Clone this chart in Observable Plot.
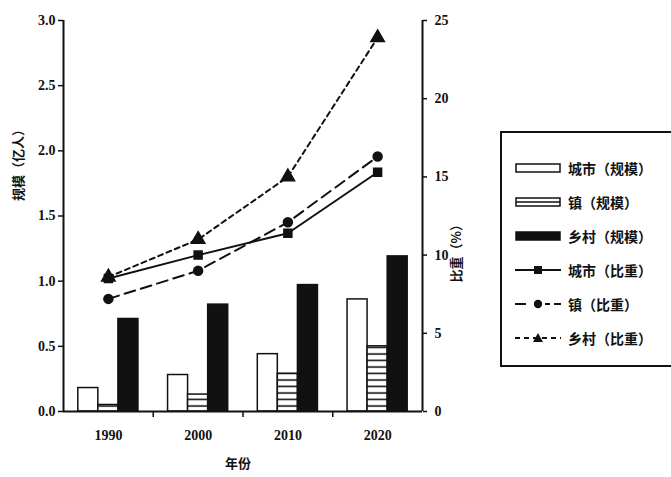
<!DOCTYPE html>
<html><head><meta charset="utf-8">
<script src="https://cdn.jsdelivr.net/npm/d3@7"></script>
<script src="https://cdn.jsdelivr.net/npm/@observablehq/plot@0.6"></script>
<style>
body{margin:0;background:#fff;overflow:hidden;width:671px;height:477px;position:relative;font-family:"Noto Sans CJK SC",sans-serif;}
#chart{position:absolute;left:0;top:0;}
#legend{position:absolute;left:500px;top:131px;width:190px;height:236px;border:2px solid #111;box-sizing:border-box;background:#fff;}
.item{position:absolute;left:13px;height:20px;display:flex;align-items:center;font-weight:bold;font-size:14px;color:#111;white-space:nowrap;}
.item svg{margin-right:7px;}
</style></head><body>
<div id="chart"></div><div id="legend"></div>
<script>
const years = [1990, 2000, 2010, 2020];
const cityScale = [0.18, 0.28, 0.44, 0.86];
const townScale = [0.05, 0.13, 0.29, 0.50];
const ruralScale = [0.71, 0.82, 0.97, 1.19];
const cityPct = [8.5, 10.0, 11.4, 15.3];
const townPct = [7.2, 9.0, 12.1, 16.3];
const ruralPct = [8.6, 11.0, 15.0, 23.9];
const leftTicks = [0, 0.5, 1.0, 1.5, 2.0, 2.5, 3.0];
const rightTicks = [0, 5, 10, 15, 20, 25];
const legendLabels = ["城市（规模）", "镇（规模）", "乡村（规模）", "城市（比重）", "镇（比重）", "乡村（比重）"];

const INK = "#111";
const pctMax = 25, leftMax = 3;
const toLeft = v => v * leftMax / pctMax;

const barSeries = [
  {name: "city", vals: cityScale, o1: -3.35, o2: -1.12, fill: "white"},
  {name: "town", vals: townScale, o1: -1.12, o2: 1.12, fill: "url(#hatch)"},
  {name: "rural", vals: ruralScale, o1: 1.12, o2: 3.35, fill: INK}
];
const lineSeries = [
  {name: "city", vals: cityPct, dash: null, symbol: "square", r: 4.5},
  {name: "town", vals: townPct, dash: "11,6", symbol: "circle", r: 4.5},
  {name: "rural", vals: ruralPct, dash: "5,4", symbol: "triangle", r: 5}
];

const marks = [];
for (const s of barSeries) {
  const data = years.map((y, i) => ({year: y, v: s.vals[i]}));
  marks.push(Plot.rectY(data, {
    x1: d => d.year + s.o1, x2: d => d.year + s.o2, y1: 0, y2: "v",
    fill: s.fill, stroke: INK, strokeWidth: 1.5
  }));
}
for (const s of lineSeries) {
  const data = years.map((y, i) => ({year: y, v: s.vals[i]}));
  marks.push(Plot.line(data, {x: "year", y: d => toLeft(d.v), stroke: INK, strokeWidth: 2, strokeDasharray: s.dash}));
  marks.push(Plot.dot(data, {x: "year", y: d => toLeft(d.v), symbol: s.symbol, r: s.r, fill: INK, stroke: INK}));
}
marks.push(Plot.ruleY([0], {stroke: INK, strokeWidth: 2}));
marks.push(Plot.ruleX([1985, 2025], {y1: 0, y2: 3, stroke: INK, strokeWidth: 2}));
marks.push(Plot.axisY(leftTicks, {anchor: "left", tickSize: 5, tickPadding: 3, tickFormat: d3.format(".1f"),
  fontFamily: "Liberation Serif", fontWeight: "bold", fontSize: 14, stroke: INK, strokeWidth: 1.5, label: null}));
marks.push(Plot.axisY(rightTicks.map(toLeft), {anchor: "right", tickSize: 4, tickPadding: 8,
  tickFormat: d => String(Math.round(d * pctMax / leftMax)),
  fontFamily: "Liberation Serif", fontWeight: "bold", fontSize: 14, stroke: INK, strokeWidth: 1.5, label: null}));
marks.push(Plot.axisX([1995, 2005, 2015], {tickSize: 6, tickFormat: () => "", stroke: INK, strokeWidth: 1.5, label: null}));
marks.push(Plot.axisX(years, {tickSize: 0, tickPadding: 19, tickFormat: d => String(d),
  fontFamily: "Liberation Serif", fontWeight: "bold", fontSize: 14, label: null}));
marks.push(Plot.text(["年份"], {frameAnchor: "bottom", dy: 56, dx: -5, fontWeight: "bold", fontSize: 13, fontFamily: "Noto Sans CJK SC", fill: INK}));
marks.push(Plot.text(["规模（亿人）"], {frameAnchor: "left", dx: -45, dy: -15, rotate: -90, fontWeight: "bold", fontSize: 13, fontFamily: "Noto Sans CJK SC", fill: INK}));
marks.push(Plot.text(["比重（%）"], {frameAnchor: "right", dx: 34, dy: 2, rotate: -90, fontWeight: "bold", fontSize: 13, fontFamily: "Noto Sans CJK SC", fill: INK}));

const chart = Plot.plot({
  width: 671, height: 477,
  marginLeft: 63, marginRight: 249, marginTop: 20, marginBottom: 66,
  x: {type: "linear", domain: [1985, 2025]},
  y: {domain: [0, 3]},
  style: {background: "white", color: INK},
  marks
});
d3.select(chart).insert("defs", ":first-child").html(
  '<pattern id="hatch" patternUnits="userSpaceOnUse" width="6" height="6.5"><rect width="6" height="6.5" fill="white"/><line x1="0" x2="6" y1="3" y2="3" stroke="#111" stroke-width="1.6"/></pattern>'
);
document.getElementById("chart").appendChild(chart);

// legend
const legend = document.getElementById("legend");
const sw = [
  '<rect x="1" y="4" width="44" height="8" fill="white" stroke="#111" stroke-width="1.5"/>',
  '<rect x="1" y="4" width="44" height="8" fill="white" stroke="#111" stroke-width="1.5"/><line x1="1" x2="45" y1="8" y2="8" stroke="#111" stroke-width="1.5"/>',
  '<rect x="1" y="4" width="44" height="8" fill="#111" stroke="#111" stroke-width="1.5"/>',
  '<line x1="0" x2="46" y1="8" y2="8" stroke="#111" stroke-width="2"/><rect x="19" y="4" width="8" height="8" fill="#111"/>',
  '<line x1="0" x2="46" y1="8" y2="8" stroke="#111" stroke-width="2" stroke-dasharray="11,5,0,14,5,4"/><circle cx="23" cy="8" r="4.2" fill="#111"/>',
  '<line x1="0" x2="46" y1="8" y2="8" stroke="#111" stroke-width="2" stroke-dasharray="5,4"/><path d="M23,3 L28,12 L18,12 Z" fill="#111"/>'
];
const rowCenters = [37, 71, 105, 139, 173, 207];
legendLabels.forEach((lab, i) => {
  const div = document.createElement("div");
  div.className = "item";
  div.style.top = (rowCenters[i] - 2 - 10) + "px";
  div.innerHTML = '<svg width="46" height="16">' + sw[i] + '</svg><span>' + lab + '</span>';
  legend.appendChild(div);
});
</script>
</body></html>
